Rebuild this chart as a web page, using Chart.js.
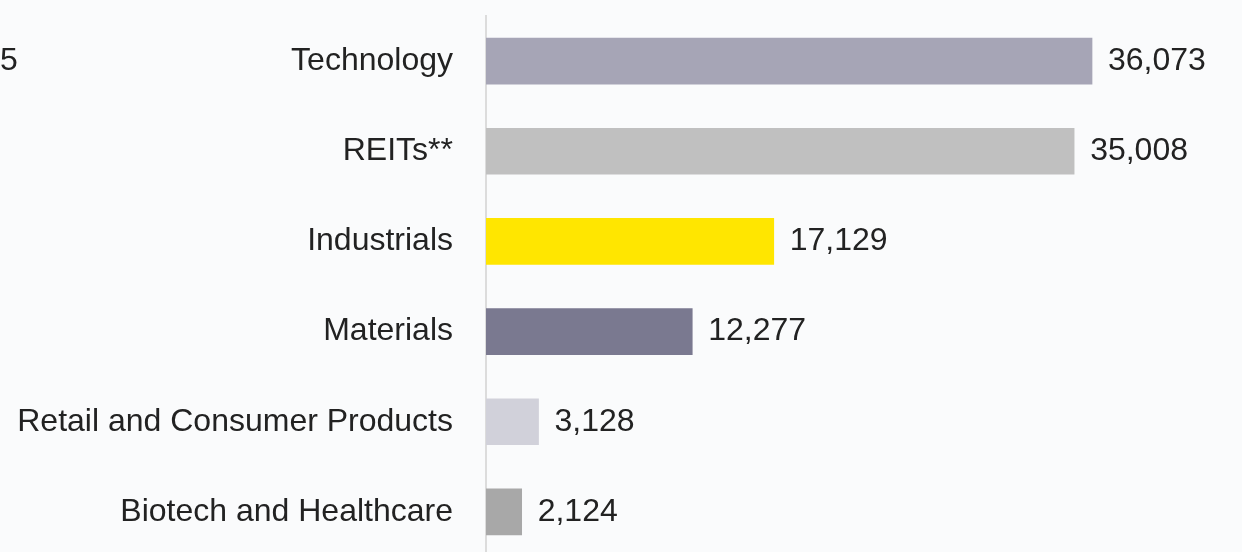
<!DOCTYPE html>
<html>
<head>
<meta charset="utf-8">
<script src="https://cdn.jsdelivr.net/npm/chart.js@4/dist/chart.umd.min.js"></script>
<style>
    html, body { margin: 0; padding: 0; overflow: hidden; background: #fafbfc; }
    #wrap { position: relative; width: 1242px; height: 557px; }
    #cut { position: absolute; left: 0; top: 41px; font: 32px "Liberation Sans", Arial, sans-serif; color: #222; }
</style>
</head>
<body>
<div id="wrap">
    <div id="cut">5</div>
    <canvas id="bar-chart-sectors" width="1242" height="557"></canvas>
</div>
<script>
var sectors = ["Technology", "REITs**", "Industrials", "Materials", "Retail and Consumer Products", "Biotech and Healthcare"];
var amounts = [36073, 35008, 17129, 12277, 3128, 2124];
var barColors = ["#a6a5b6", "#c0c0c0", "#ffe600", "#7a7990", "#d1d1da", "#a8a8a8"];

var labelFont = '32px "Liberation Sans", Arial, sans-serif';

// value labels drawn to the right of each bar
var valueLabels = {
    id: 'valueLabels',
    afterDatasetsDraw: function (chart) {
        var ctx = chart.ctx;
        var meta = chart.getDatasetMeta(0);
        ctx.save();
        ctx.font = labelFont;
        ctx.fillStyle = '#222';
        ctx.textAlign = 'left';
        ctx.textBaseline = 'middle';
        meta.data.forEach(function (bar, i) {
            ctx.fillText(amounts[i].toLocaleString('en-US'), bar.x + 16, bar.y);
        });
        ctx.restore();
    }
};

new Chart(document.getElementById("bar-chart-sectors"), {
    type: 'bar',
    data: {
        labels: sectors,
        datasets: [{
            data: amounts,
            backgroundColor: barColors,
            barThickness: 46
        }]
    },
    options: {
        indexAxis: 'y',
        responsive: false,
        animation: false,
        layout: { padding: { top: 16, left: 0, right: 0, bottom: 0 } },
        plugins: {
            legend: { display: false },
            tooltip: { enabled: false }
        },
        scales: {
            x: {
                display: false,
                min: 0,
                max: 45000
            },
            y: {
                grid: { display: false, drawTicks: false },
                border: { display: true, color: '#dcdcdc', width: 2 },
                ticks: {
                    color: '#222',
                    padding: 33,
                    font: { family: '"Liberation Sans", Arial, sans-serif', size: 32 }
                },
                afterFit: function (scale) {
                    scale.width = 486;
                    scale.paddingTop = 0;
                    scale.paddingBottom = 0;
                }
            }
        }
    },
    plugins: [valueLabels]
});
</script>
</body>
</html>
